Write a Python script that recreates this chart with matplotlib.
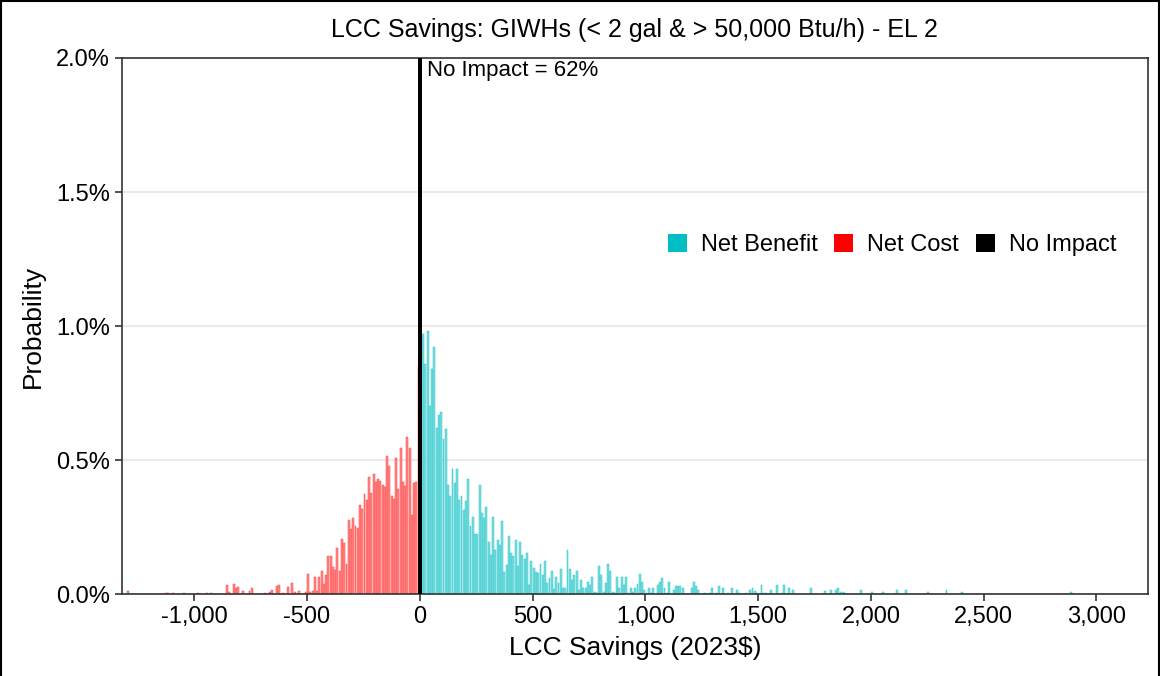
"""
LCC savings distribution for GIWHs (< 2 gal & > 50,000 Btu/h), EL 2
"""
import numpy as np
import matplotlib
matplotlib.use("Agg")
import matplotlib.pyplot as plt
import matplotlib.ticker as ticker
from matplotlib.patches import Patch
from matplotlib.lines import Line2D

plt.rcParams['font.family'] = ['Liberation Sans', 'DejaVu Sans']

bin_width = 10  # 2023$

# sparse left tail (net cost), bin centres and probability in %
cost_tail_x = [-1295, -1125, -1115, -1095, -1045, -985, -945, -925, -855, -845,
               -825, -815, -805, -785, -755, -745, -685, -665, -655, -635,
               -625, -605, -585, -565, -555, -535, -505]
cost_tail_p = [0.014, 0.004, 0.004, 0.004, 0.004, 0.004, 0.004, 0.004, 0.035, 0.010,
               0.037, 0.022, 0.026, 0.012, 0.012, 0.025, 0.004, 0.009, 0.016, 0.029,
               0.035, 0.006, 0.026, 0.041, 0.007, 0.014, 0.007]

# contiguous net cost bins, -495 .. -5
cost_start = -495
cost_p = [0.075, 0.007, 0.014, 0.064, 0.014, 0.064, 0.085, 0.040, 0.072, 0.143,
          0.143, 0.100, 0.090, 0.172, 0.085, 0.206, 0.190, 0.113, 0.276, 0.243,
          0.284, 0.255, 0.246, 0.334, 0.318, 0.375, 0.350, 0.436, 0.378, 0.449,
          0.418, 0.428, 0.424, 0.409, 0.400, 0.517, 0.477, 0.368, 0.355, 0.509,
          0.393, 0.546, 0.418, 0.405, 0.587, 0.546, 0.297, 0.415, 0.420, 0.850]

# contiguous net benefit bins, 5 .. 1035
benefit_start = 5
benefit_p = [0.800,
             0.971, 0.859, 0.981, 0.703, 0.840, 0.921, 0.619, 0.669, 0.678, 0.578,
             0.618, 0.407, 0.366, 0.466, 0.416, 0.466, 0.353, 0.366, 0.316, 0.347,
             0.428, 0.253, 0.287, 0.225, 0.225, 0.407, 0.303, 0.285, 0.325, 0.195,
             0.147, 0.287, 0.166, 0.203, 0.185, 0.275, 0.082, 0.110, 0.216, 0.154,
             0.141, 0.203, 0.107, 0.195, 0.145, 0.132, 0.154, 0.035, 0.125, 0.097,
             0.082,
             0.079, 0.114, 0.072, 0.125, 0.041, 0.062, 0.085, 0.020, 0.064, 0.041,
             0.095, 0.022, 0.022, 0.165, 0.095, 0.054, 0.072, 0.085, 0.016, 0.054,
             0.022, 0.022, 0.044, 0.035, 0.064, 0.010, 0.006, 0.104, 0.072, 0.010,
             0.041, 0.112, 0.085, 0.010, 0.006, 0.064, 0.022, 0.064, 0.035, 0.064,
             0.006, 0.022, 0.010, 0.022, 0.037, 0.075, 0.044, 0.016, 0.006, 0.025,
             0.006, 0.022]

# sparse right tail (net benefit)
benefit_tail_x = [1055, 1065, 1075, 1085, 1095, 1105, 1125, 1135, 1145, 1155,
                  1165, 1205, 1215, 1225, 1235, 1265, 1285, 1295, 1315, 1325,
                  1345, 1365, 1385, 1405, 1415, 1445, 1465, 1475, 1485, 1495,
                  1515, 1525, 1535, 1555, 1585, 1605, 1615, 1635, 1655, 1735,
                  1795, 1825, 1845, 1855, 1865, 1875, 1885, 1955, 2005, 2055,
                  2115, 2155, 2255, 2335, 2405, 2885]
benefit_tail_p = [0.035, 0.045, 0.062, 0.025, 0.006, 0.045, 0.016, 0.032, 0.032, 0.029,
                  0.025, 0.022, 0.045, 0.032, 0.016, 0.004, 0.004, 0.025, 0.006, 0.032,
                  0.022, 0.006, 0.025, 0.016, 0.006, 0.006, 0.016, 0.025, 0.014, 0.006,
                  0.035, 0.004, 0.006, 0.016, 0.035, 0.006, 0.035, 0.022, 0.016, 0.025,
                  0.014, 0.016, 0.016, 0.025, 0.010, 0.010, 0.004, 0.016, 0.007, 0.007,
                  0.017, 0.016, 0.007, 0.017, 0.007, 0.007]

no_impact_pct = 62
x_ticks = [-1000, -500, 0, 500, 1000, 1500, 2000, 2500, 3000]
y_ticks = [0.0, 0.5, 1.0, 1.5, 2.0]

teal = '#00BFC4'
red = '#FF0000'

cost_x = np.concatenate([cost_tail_x, cost_start + bin_width * np.arange(len(cost_p))])
cost_y = np.concatenate([cost_tail_p, cost_p])
ben_x = np.concatenate([benefit_start + bin_width * np.arange(len(benefit_p)), benefit_tail_x])
ben_y = np.concatenate([benefit_p, benefit_tail_p])

fig = plt.figure(figsize=(11.6, 6.76), dpi=100)
ax = fig.add_axes([0.1052, 0.1209, 0.8842, 0.7934])

ax.bar(cost_x, cost_y, width=bin_width * 0.85, facecolor='#FF8A8A',
       edgecolor='#FF4040', linewidth=0.35, zorder=2)
ax.bar(ben_x, ben_y, width=bin_width * 0.85, facecolor='#7ADCDF',
       edgecolor='#2CC8CD', linewidth=0.35, zorder=2)
ax.bar([0], [no_impact_pct], width=20, color='black', zorder=3)

ax.text(30, 1.955, 'No Impact = %d%%' % no_impact_pct, ha='left', va='center',
        fontsize=16, color='black', zorder=4)

ax.set_xlim(-1320, 3227)
ax.set_ylim(0, 2.0)
ax.set_xticks(x_ticks)
ax.set_yticks(y_ticks)
ax.xaxis.set_major_formatter(ticker.FuncFormatter(lambda v, _: '{:,.0f}'.format(v)))
ax.yaxis.set_major_formatter(ticker.FuncFormatter(lambda v, _: '%.1f%%' % v))
ax.tick_params(axis='both', labelsize=17, length=5, width=1.2, color='#333333',
               labelcolor='black', direction='out')

ax.yaxis.grid(True, color='#EBEBEB', linewidth=1.5, zorder=0)
ax.set_axisbelow(True)
for s in ax.spines.values():
    s.set_color('#333333')
    s.set_linewidth(1.2)

ax.set_xlabel('LCC Savings (2023\\$)', fontsize=19, labelpad=6)
ax.set_ylabel('Probability', fontsize=19, labelpad=8)

fig.text(0.5473, 0.955, 'LCC Savings: GIWHs (< 2 gal & > 50,000 Btu/h) - EL 2',
         ha='center', va='center', fontsize=18)

handles = [Patch(facecolor=teal, edgecolor='none'),
           Patch(facecolor=red, edgecolor='none'),
           Patch(facecolor='black', edgecolor='none')]
ax.legend(handles, ['Net Benefit', 'Net Cost', 'No Impact'], loc='center',
          bbox_to_anchor=(0.7507, 0.6513), ncol=3, frameon=False, fontsize=17,
          handlelength=0.8, handleheight=0.8, handletextpad=0.6, columnspacing=0.7)

# frame round the figure
for xs, ys in [([0.001, 0.001], [0, 0.999]), ([0.001, 0.999], [0.999, 0.999]),
               ([0.999, 0.999], [0, 0.999])]:
    fig.add_artist(Line2D(xs, ys, color='black', linewidth=1.5, transform=fig.transFigure))

fig.savefig('out.png', dpi=100)
